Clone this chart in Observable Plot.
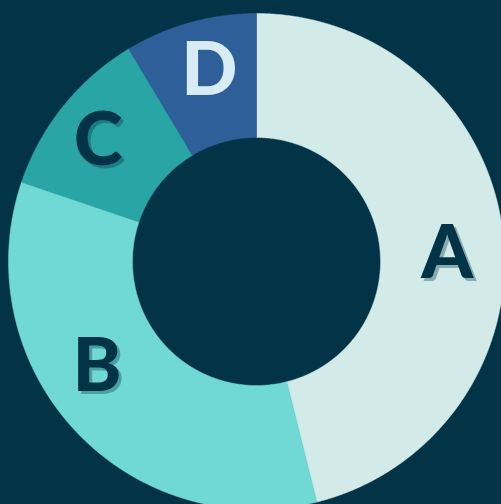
<!DOCTYPE html>
<html>
<head>
<meta charset="utf-8">
<script src="https://cdn.jsdelivr.net/npm/d3@7"></script>
<script src="https://cdn.jsdelivr.net/npm/@observablehq/plot@0.6"></script>
<style>
  html, body { margin: 0; padding: 0; background: #033346; overflow: hidden; }
</style>
</head>
<body>
<div id="chart"></div>
<script>
// Data
const categories = ["A", "B", "C", "D"];
const values = [46.1, 34.1, 11.2, 8.6];
const sliceColors = ["#d2ebe9", "#70d9d5", "#29a5a5", "#2e5f99"];
const labelColors = ["#033346", "#033346", "#033346", "#d7ecf4"];

// Layout
const W = 501, H = 504;
const outerR = 248, innerR = 124;
const cx = 256, cy = 261;
// label placement (angle nudge in degrees, radius)
const labelNudge = [4.2, 9.7, -1.2, 1.7];
const labelRadius = [191, 190, 200, 198];

const arcs = d3.pie().sort(null).value(d => d)(values);

const polys = [];
arcs.forEach((a, i) => {
  const n = Math.max(8, Math.ceil((a.endAngle - a.startAngle) / 0.005));
  for (let k = 0; k <= n; k++) {
    const t = a.startAngle + (a.endAngle - a.startAngle) * k / n;
    polys.push({key: categories[i], x: outerR * Math.sin(t), y: -outerR * Math.cos(t)});
  }
  for (let k = n; k >= 0; k--) {
    const t = a.startAngle + (a.endAngle - a.startAngle) * k / n;
    polys.push({key: categories[i], x: innerR * Math.sin(t), y: -innerR * Math.cos(t)});
  }
});

const labels = arcs.map((a, i) => {
  const t = (a.startAngle + a.endAngle) / 2 + labelNudge[i] * Math.PI / 180;
  const r = labelRadius[i];
  return {key: categories[i], x: r * Math.sin(t), y: -r * Math.cos(t) + 2, color: labelColors[i], shadow: i < 3};
});

const font = {fontFamily: "Lato", fontWeight: 900, fontSize: 74};

const chart = Plot.plot({
  width: W,
  height: H,
  margin: 0,
  style: {background: "#033346", overflow: "hidden"},
  x: {domain: [-cx, W - cx], range: [0, W], axis: null},
  y: {domain: [-cy, H - cy], range: [0, H], axis: null},
  color: {domain: categories, range: sliceColors},
  marks: [
    Plot.line(polys, {x: "x", y: "y", z: "key", fill: "key", stroke: "key", strokeWidth: 0.5, curve: "linear-closed"}),
    Plot.text(labels.filter(d => d.shadow), {x: "x", y: "y", text: "key", fill: d => d.color, ...font}),
    Plot.text(labels.filter(d => !d.shadow), {x: "x", y: "y", text: "key", fill: d => d.color, ...font})
  ]
});
// soft offset shadow behind the dark labels
d3.select(chart).selectAll('g[aria-label="text"]')
  .filter((d, i) => i === 0)
  .style("filter", "drop-shadow(3px 3px 0 rgba(3, 51, 70, 0.35))");
document.getElementById("chart").appendChild(chart);
</script>
</body>
</html>
